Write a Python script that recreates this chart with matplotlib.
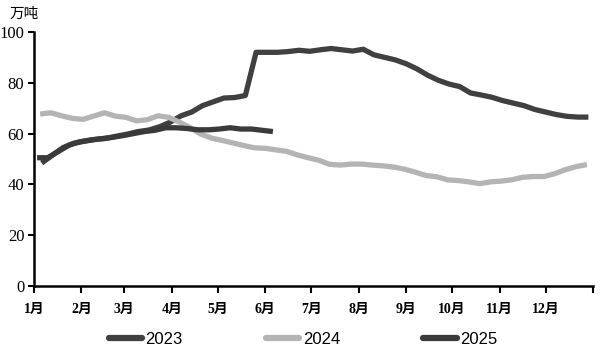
import numpy as np
import pandas as pd
import matplotlib
matplotlib.use("Agg")
import matplotlib.pyplot as plt

plt.rcParams['font.family'] = ['Liberation Serif', 'Noto Sans CJK SC', 'DejaVu Sans']

# 周度数据（万吨）
v2023 = [48.4, 51.5, 54.5, 56.2, 57.0, 57.7, 58.1, 59.0, 59.8, 60.8, 61.4, 62.7,
         64.5, 67.0, 68.5, 71.0, 72.5, 74.0, 74.2, 75.0, 92.0, 92.0, 92.0, 92.3,
         92.8, 92.4, 93.0, 93.5, 93.0, 92.5, 93.2, 91.0, 90.0, 89.0, 87.5, 85.5,
         83.0, 81.0, 79.5, 78.5, 76.0, 75.2, 74.3, 73.0, 72.0, 71.0, 69.5, 68.5,
         67.5, 66.8, 66.5, 66.5]
v2024 = [67.7, 68.2, 67.0, 66.0, 65.6, 66.9, 68.2, 66.9, 66.4, 65.0, 65.5, 67.0,
         66.4, 64.5, 62.3, 59.8, 58.2, 57.3, 56.3, 55.3, 54.4, 54.2, 53.6, 53.0,
         51.6, 50.5, 49.5, 47.9, 47.6, 48.0, 48.0, 47.6, 47.3, 46.8, 46.0, 44.8,
         43.5, 43.0, 41.8, 41.5, 41.0, 40.3, 41.0, 41.3, 41.8, 42.8, 43.1, 43.1,
         44.2, 45.8, 47.0, 47.8]
v2025 = [50.5, 50.5, 53.0, 55.5, 56.8, 57.5, 58.0, 58.5, 59.2, 60.0, 60.8, 61.3,
         62.3, 62.3, 62.0, 61.5, 61.5, 61.8, 62.3, 61.8, 61.8, 61.3, 60.8]

d2023 = pd.date_range('2023-01-06', periods=len(v2023), freq='7D')
d2024 = pd.date_range('2024-01-05', periods=len(v2024), freq='7D')
d2025 = pd.date_range('2025-01-03', periods=len(v2025), freq='7D')

month_labels = [f'{m}月' for m in range(1, 13)]
month_start = [0, 31, 59, 90, 120, 151, 181, 212, 243, 273, 304, 334]


def doy(d):
    return d.dayofyear.values - 1


fig = plt.figure(figsize=(6.03, 3.52), dpi=100)
ax = fig.add_axes([34 / 603, 1 - 286 / 352, (593 - 34) / 603, (286 - 32) / 352])

ax.plot(doy(d2023), v2023, color='#404040', lw=3.8, solid_capstyle='butt', label='2023')
ax.plot(doy(d2024), v2024, color='#b4b4b4', lw=3.8, solid_capstyle='butt', label='2024')
ax.plot(doy(d2025), v2025, color='#3a3a3a', lw=3.8, solid_capstyle='butt', label='2025')

ax.set_xlim(0, 365)
ax.set_ylim(0, 100)
ax.set_yticks(range(0, 101, 20))
ax.set_xticks(month_start + [365])
ax.set_xticklabels(month_labels + [''])
ax.tick_params(axis='y', length=4, width=1.5, pad=3, labelsize=12)
ax.tick_params(axis='x', length=5, width=1.5, pad=7, labelsize=10)
for lab in ax.get_xticklabels():
    lab.set_fontweight('bold')

for s in ['top', 'right']:
    ax.spines[s].set_visible(False)
ax.spines['left'].set_linewidth(1.8)
ax.spines['bottom'].set_linewidth(1.8)

fig.text(10 / 603, 1 - 14 / 352, '万吨', fontsize=10.5, va='center',
         family=['Noto Sans CJK SC', 'DejaVu Sans'])

leg = fig.legend(loc='center', bbox_to_anchor=(303 / 603, 1 - 339 / 352), ncol=3,
                 frameon=False, handlelength=2.0, handletextpad=0.2,
                 columnspacing=5.0, prop={'family': 'Liberation Sans', 'size': 12})
for h in leg.get_lines():
    h.set_linewidth(4.5)
    h.set_solid_capstyle('round')

fig.savefig('out.png', dpi=100)
